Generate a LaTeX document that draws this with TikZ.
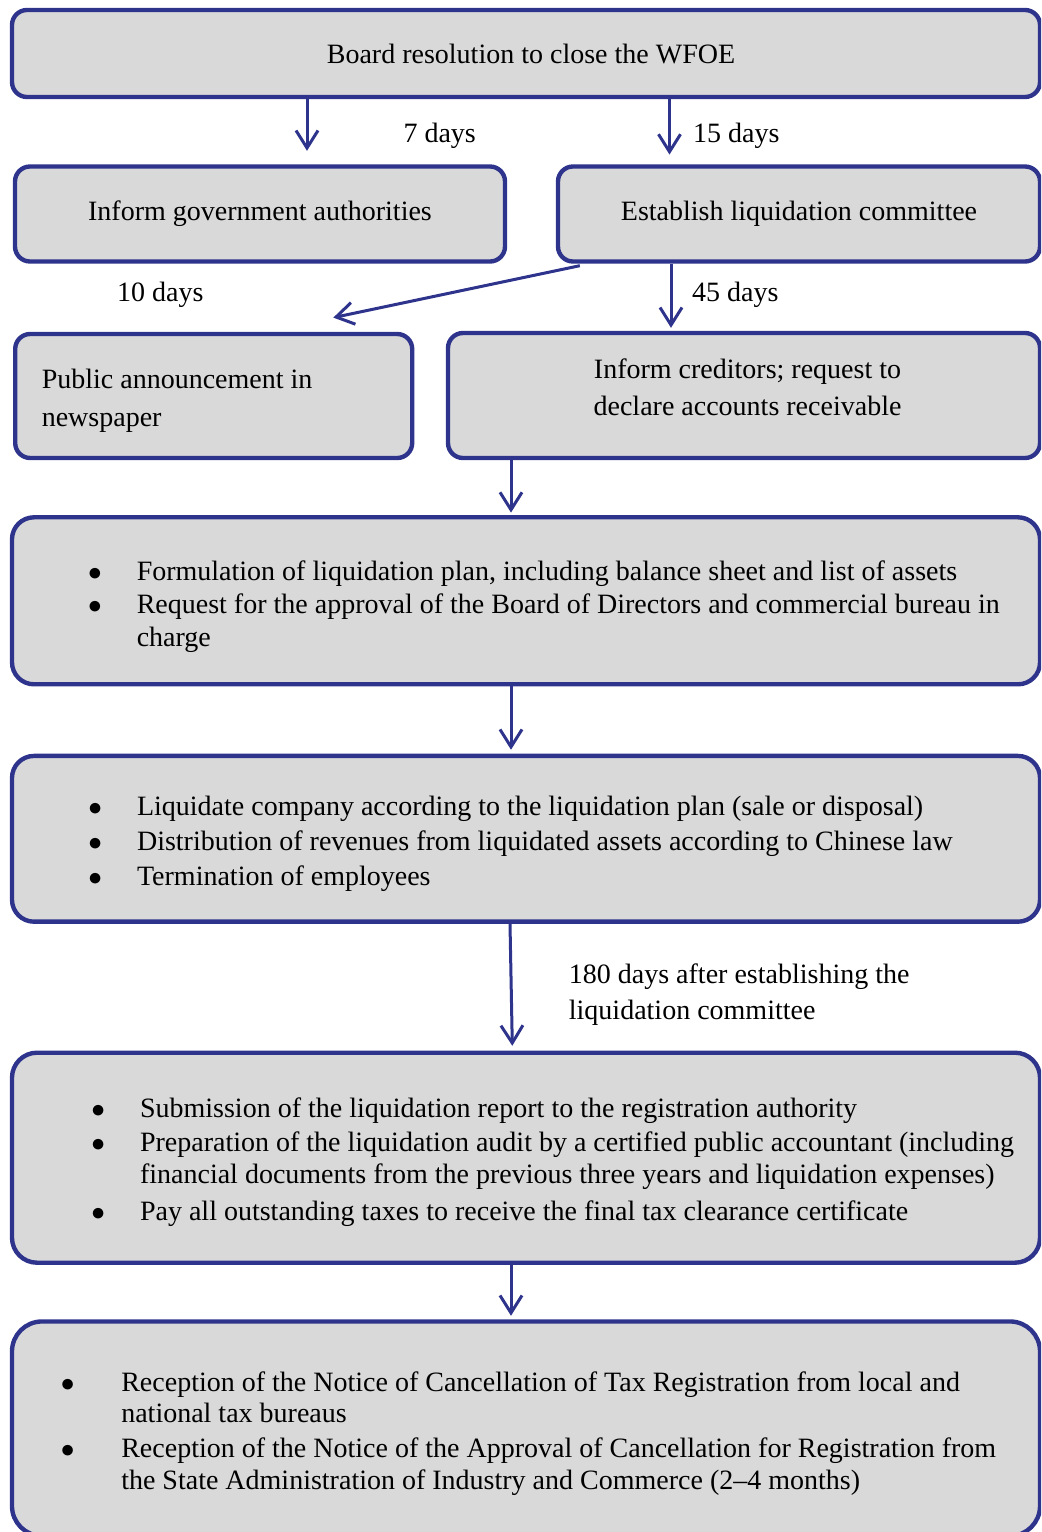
\documentclass[tikz,border=0pt]{standalone}
\usepackage{fontspec}
\setmainfont{Liberation Serif}
\usetikzlibrary{positioning,calc,arrows.meta}

\definecolor{frameblue}{RGB}{46,52,140}
\definecolor{boxgray}{RGB}{217,217,217}

\newcommand{\bul}[1][19.5pt]{\makebox[#1][l]{$\bullet$}}
\newcommand{\cont}[1][19.5pt]{\hspace*{#1}}

\begin{document}
\begin{tikzpicture}[
		x=0.4pt, y=-0.4pt,
		font=\fontsize{11.2pt}{12.9pt}\selectfont,
		stage/.style={rectangle, rounded corners=6pt, draw=frameblue, line width=1.75pt,
			fill=boxgray, text=black, inner sep=0pt},
		bigstage/.style={stage, minimum width=411.2pt},
		blist/.style={inner sep=0pt, align=left, anchor=base west},
		daylabel/.style={inner sep=0pt, anchor=base west},
		flow/.style={draw=frameblue, line width=1.2pt, -{Straight Barb[length=7pt,width=8.8pt]}}
]

\useasboundingbox (0,0) rectangle (1041,1532);
\clip (0,0) rectangle (1041,1532);

% boxes
\node [bigstage, minimum height=34.8pt] (board) at (526,53.5) {\hspace*{4pt}Board resolution to close the WFOE};
\node [stage, minimum width=196pt, minimum height=38pt] (infogov) at (260,214) {Inform government authorities};
\node [stage, minimum width=192.8pt, minimum height=38pt] (committee) at (799,214) {Establish liquidation committee};
\node [stage, minimum width=158.8pt, minimum height=49.6pt] (announce) at (213.7,396) {};
\node [stage, minimum width=236.8pt, minimum height=50pt] (creditors) at (744,395.5) {};
\node [bigstage, rounded corners=8.8pt, minimum height=66.8pt] (plan) at (526,600.8) {};
\node [bigstage, rounded corners=8.8pt, minimum height=66.3pt] (liquidate) at (526,838.8) {};
\node [bigstage, rounded corners=10pt, minimum height=84pt] (report) at (526,1157.7) {};
\node [bigstage, rounded corners=12pt, minimum height=85.8pt] (cancel) at (526,1428.7) {};

% box texts (base = last line)
\node [blist, font=\fontsize{11.2pt}{15pt}\selectfont] (announcetext)
	at ($(announce.north west)+(28.3,94.5)$) {Public announcement in\\newspaper};
\node [inner sep=0pt, align=center, anchor=base, font=\fontsize{11.2pt}{15pt}\selectfont] (creditorstext)
	at ($(creditors.north)+(3.5,85)$) {Inform creditors; request to\\declare accounts receivable};
\node [blist, font=\fontsize{11.2pt}{13.3pt}\selectfont] (plantext)
	at ($(plan.north west)+(77.7,131.6)$) {%
	\bul Formulation of liquidation plan, including balance sheet and list of assets\\
	\bul Request for the approval of the Board of Directors and commercial bureau in\\
	\cont charge};
\node [blist, font=\fontsize{11.2pt}{14pt}\selectfont] (liquidatetext)
	at ($(liquidate.north west)+(78,131.6)$) {%
	\bul Liquidate company according to the liquidation plan (sale or disposal)\\
	\bul Distribution of revenues from liquidated assets according to Chinese law\\
	\bul Termination of employees};
\node [blist, font=\fontsize{11.2pt}{12.7pt}\selectfont] (reporttext)
	at ($(report.north west)+(81,169.8)$) {%
	\bul Submission of the liquidation report to the registration authority\\[1.2pt]
	\bul Preparation of the liquidation audit by a certified public accountant (including\\
	\cont financial documents from the previous three years and liquidation expenses)\\[2pt]
	\bul Pay all outstanding taxes to receive the final tax clearance certificate};
\node [blist, font=\fontsize{11.2pt}{12.7pt}\selectfont] (canceltext)
	at ($(cancel.north west)+(50.5,170.3)$) {%
	\bul[21.4pt] Reception of the Notice of Cancellation of Tax Registration from local and\\
	\cont[21.4pt] national tax bureaus\\[1.3pt]
	\bul[21.4pt] Reception of the Notice of the Approval of Cancellation for Registration from\\
	\cont[21.4pt] the State Administration of Industry and Commerce (2--4 months)};

% time labels
\node [daylabel] (d7) at (403,142.7) {7 days};
\node [daylabel] (d15) at (692.7,142.7) {15 days};
\node [daylabel] (d10) at (116.7,301) {10 days};
\node [daylabel] (d45) at (691.7,301) {45 days};
\node [daylabel, align=left, font=\fontsize{11.2pt}{14.4pt}\selectfont] (d180)
	at (568.4,1019.3) {180 days after establishing the\\liquidation committee};

% arrows
\coordinate (a7) at ($(infogov.north)+(47,0)$);
\coordinate (a15) at ($(committee.north)+(-129.5,0)$);
\coordinate (a45) at ($(committee.north)+(-128,0)$);
\coordinate (spine) at ($(plan.north)+(-15,0)$);

\draw [flow, shorten >=5.4pt] (board.south -| a7) -- (infogov.north -| a7);
\draw [flow, shorten >=3.9pt] (board.south -| a15) -- (committee.north -| a15);
\draw [flow, shorten >=1.2pt] (committee.south -| a45) -- (creditors.north -| a45);
\draw [flow] ($(committee.south west)+(24,2)$) -- ($(announce.north)+(119.6,-14.2)$);
\draw [flow, shorten >=1pt] (spine |- creditors.south) -- (spine |- plan.north);
\draw [flow, shorten >=1.6pt] (spine |- plan.south) -- (spine |- liquidate.north);
\draw [flow, shorten >=1.9pt] ([xshift=-0.4pt]spine |- liquidate.south) -- ([xshift=0.56pt]spine |- report.north);
\draw [flow, shorten >=1.4pt] (spine |- report.south) -- (spine |- cancel.north);

\end{tikzpicture}
\end{document}
